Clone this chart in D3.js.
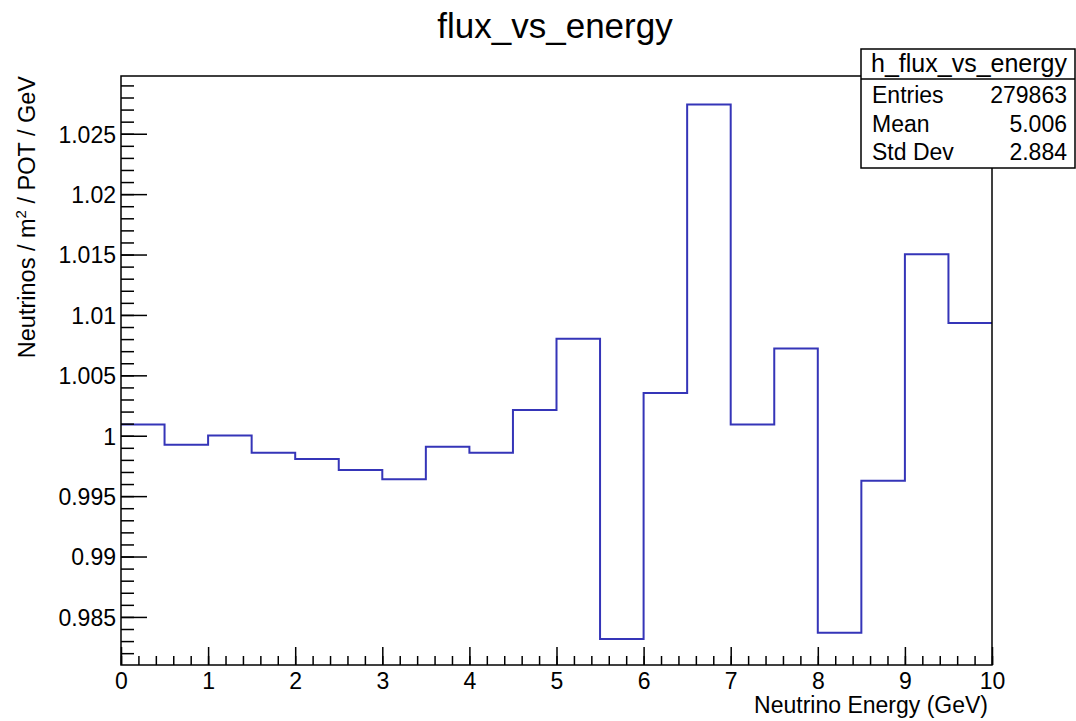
<!DOCTYPE html>
<html>
<head>
<meta charset="utf-8">
<script src="https://cdn.jsdelivr.net/npm/d3@7"></script>
<style>
html,body{margin:0;padding:0;background:#fff;}
svg{display:block;font-family:"Liberation Sans",Arial,Helvetica,sans-serif;}
</style>
</head>
<body>
<svg id="chart" width="1076" height="721"></svg>
<script>
// ---- data ----
const binEdges = [0,0.5,1,1.5,2,2.5,3,3.5,4,4.5,5,5.5,6,6.5,7,7.5,8,8.5,9,9.5,10];
const binValues = [1.00092,0.99926,1.00002,0.99860,0.99807,0.99717,0.99640,0.99909,0.99860,1.00212,
                   1.00803,0.98318,1.00353,1.02743,1.00092,1.00723,0.98370,0.99627,1.01502,1.00933];
const xTicks = [0,1,2,3,4,5,6,7,8,9,10];
const yTicks = [0.985,0.99,0.995,1,1.005,1.01,1.015,1.02,1.025];
const xDomain = [0,10];
const yDomain = [0.98102,1.02978];
const titleText = "flux_vs_energy";
const xTitle = "Neutrino Energy (GeV)";
const statsName = "h_flux_vs_energy";
const statsLabels = ["Entries","Mean","Std Dev"];
const statsValues = ["279863","5.006","2.884"];

// ---- layout ----
const L = 121, R = 992, T = 76, B = 665;
const svg = d3.select("#chart");
const x = d3.scaleLinear().domain(xDomain).range([L,R]);
const y = d3.scaleLinear().domain(yDomain).range([B,T]);
const fmt = d3.format("~g");
const lineColor = "#3535b8";

// histogram
const pts = [];
binValues.forEach((v,i)=>{ pts.push([binEdges[i],v]); pts.push([binEdges[i+1],v]); });
svg.append("path")
  .attr("d", d3.line().x(d=>x(d[0])).y(d=>y(d[1]))(pts))
  .attr("fill","none").attr("stroke",lineColor).attr("stroke-width",2);

// axes
const yMinor = d3.range(Math.ceil(yDomain[0]*1000), Math.floor(yDomain[1]*1000)+1).map(d=>d/1000);
const xMinor = d3.range(0, 51).map(d=>d/5);
const gy = svg.append("g").attr("transform",`translate(${L},0)`);
gy.call(d3.axisLeft(y).tickValues(yMinor).tickSize(-13).tickFormat(""));
gy.call(g=>g.select(".domain").remove());
const gy2 = svg.append("g").attr("transform",`translate(${L},0)`);
gy2.call(d3.axisLeft(y).tickValues(yTicks).tickSize(-26).tickPadding(5).tickFormat(fmt));
gy2.call(g=>g.select(".domain").remove());
gy2.selectAll("text").attr("font-size",23).attr("fill","#000").attr("font-family","Liberation Sans, Arial, sans-serif").attr("dy","0.36em");

const gx = svg.append("g").attr("transform",`translate(0,${B})`);
gx.call(d3.axisBottom(x).tickValues(xMinor).tickSize(-9).tickFormat(""));
gx.call(g=>g.select(".domain").remove());
const gx2 = svg.append("g").attr("transform",`translate(0,${B})`);
gx2.call(d3.axisBottom(x).tickValues(xTicks).tickSize(-18).tickPadding(8).tickFormat(fmt));
gx2.call(g=>g.select(".domain").remove());
gx2.selectAll("text").attr("font-size",23).attr("fill","#000").attr("font-family","Liberation Sans, Arial, sans-serif").attr("dy","0.71em");
svg.selectAll(".tick line").attr("stroke","#000").attr("stroke-width",1.5);

// frame
svg.append("rect").attr("x",L).attr("y",T).attr("width",R-L).attr("height",B-T)
  .attr("fill","none").attr("stroke","#000").attr("stroke-width",1.5);

// titles
svg.append("text").attr("x",555).attr("y",38).attr("text-anchor","middle")
  .attr("font-size",35).attr("fill","#000").text(titleText);
svg.append("text").attr("x",R-4).attr("y",713).attr("text-anchor","end")
  .attr("font-size",23).attr("fill","#000").text(xTitle);
const yt = svg.append("text").attr("transform",`translate(35,76) rotate(-90)`)
  .attr("text-anchor","end").attr("font-size",23.5).attr("fill","#000");
yt.append("tspan").text("Neutrinos / m");
yt.append("tspan").attr("font-size",15).attr("dy",-9).text("2");
yt.append("tspan").attr("dy",9).text(" / POT / GeV");

// stats box
const sb = {x0:861, y0:49, x1:1075, y1:168, div:79};
svg.append("rect").attr("x",sb.x0).attr("y",sb.y0).attr("width",sb.x1-sb.x0).attr("height",sb.y1-sb.y0)
  .attr("fill","#fff").attr("stroke","#000").attr("stroke-width",1.5);
svg.append("line").attr("x1",sb.x0).attr("x2",sb.x1).attr("y1",sb.div).attr("y2",sb.div)
  .attr("stroke","#000").attr("stroke-width",1.5);
svg.append("text").attr("x",969).attr("y",72).attr("text-anchor","middle")
  .attr("font-size",25).attr("fill","#000").text(statsName);
const rowY = [103,131.5,159.5];
statsLabels.forEach((lab,i)=>{
  svg.append("text").attr("x",872).attr("y",rowY[i]).attr("font-size",23).attr("fill","#000").text(lab);
  svg.append("text").attr("x",1067).attr("y",rowY[i]).attr("text-anchor","end").attr("font-size",23).attr("fill","#000").text(statsValues[i]);
});
</script>
</body>
</html>
